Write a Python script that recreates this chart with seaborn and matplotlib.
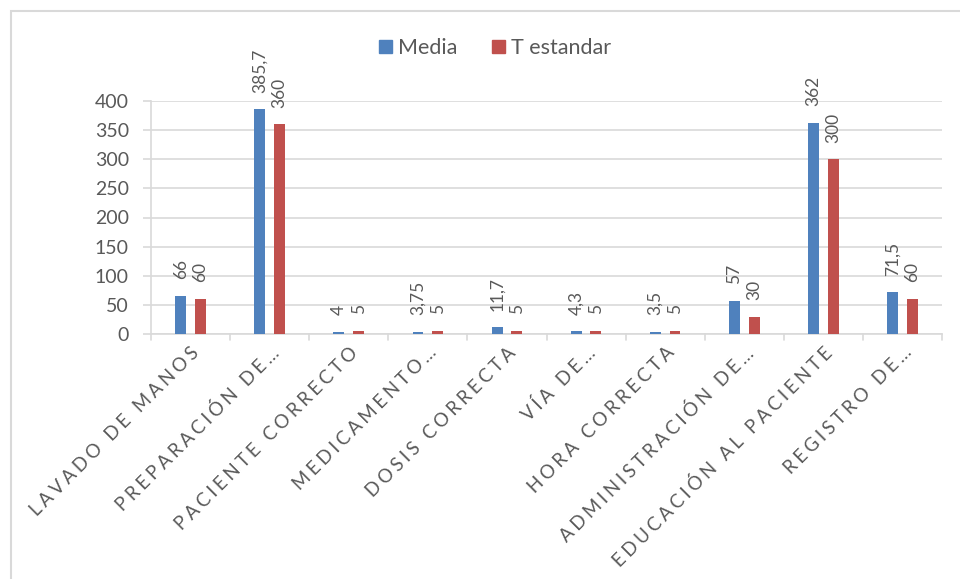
import matplotlib
matplotlib.use("Agg")
import matplotlib.pyplot as plt
import matplotlib.patches as mpatches
import seaborn as sns
import pandas as pd

categorias = ["LAVADO DE MANOS", "PREPARACIÓN DE…", "PACIENTE CORRECTO", "MEDICAMENTO…",
              "DOSIS CORRECTA", "VÍA DE…", "HORA CORRECTA", "ADMINISTRACIÓN DE…",
              "EDUCACIÓN AL PACIENTE", "REGISTRO DE…"]
media = [66, 385.7, 4, 3.75, 11.7, 4.3, 3.5, 57, 362, 71.5]
t_estandar = [60, 360, 5, 5, 5, 5, 5, 30, 300, 60]
series = ["Media", "T estandar"]
colores = ["#4F81BD", "#C0504D"]
y_ticks = [0, 50, 100, 150, 200, 250, 300, 350, 400]

df = pd.DataFrame({
    "categoria": categorias * 2,
    "valor": media + t_estandar,
    "serie": [series[0]] * len(media) + [series[1]] * len(t_estandar),
})

sns.set_theme(style="white")
plt.rcParams["font.family"] = ["Lato", "DejaVu Sans"]
gris = "#595959"
linea = "#D9D9D9"

fig = plt.figure(figsize=(9.6, 5.79), dpi=100)
ax = fig.add_axes([151 / 960, 1 - 334 / 579, (942 - 151) / 960, (334 - 101) / 579])

sns.barplot(data=df, x="categoria", y="valor", hue="serie", palette=colores,
            width=0.5, gap=0.45, saturation=1, ax=ax, legend=False, errorbar=None,
            linewidth=0)
for p in ax.patches:
    p.set_zorder(3)

# value labels above each bar
def fmt(v):
    return f"{v:g}".replace(".", ",")

for cont in ax.containers:
    for rect in cont:
        h = rect.get_height()
        ax.annotate(fmt(h), (rect.get_x() + rect.get_width() / 2, h),
                    xytext=(0, 12), textcoords="offset points",
                    rotation=90, ha="center", va="bottom", color=gris, fontsize=12.5)

ax.set_ylim(0, 400)
ax.set_xlim(-0.5, len(categorias) - 0.5)
ax.set_yticks(y_ticks)
ax.set_yticklabels([str(t) for t in y_ticks], color=gris, fontsize=14)
ax.yaxis.grid(True, color=linea, linewidth=1.2)
ax.set_axisbelow(True)
ax.tick_params(axis="y", length=6, width=1.2, color=linea, pad=10, left=True)

# spaced-out category labels
espaciado = ["\u2009\u200a".join(c) for c in categorias]
ax.set_xticks(range(len(categorias)))
ax.set_xticklabels(espaciado, rotation=45, ha="right", rotation_mode="anchor",
                   color=gris, fontsize=13.5)
ax.tick_params(axis="x", length=0, pad=7)
# separators between categories on the x axis
for b in [i - 0.5 for i in range(len(categorias) + 1)]:
    ax.plot([b, b], [0, -0.025], transform=ax.get_xaxis_transform(),
            color=linea, linewidth=1.2, clip_on=False)

ax.set_xlabel("")
ax.set_ylabel("")
for side in ["top", "right"]:
    ax.spines[side].set_visible(False)
for side in ["left", "bottom"]:
    ax.spines[side].set_color(linea)
    ax.spines[side].set_linewidth(1.2)

handles = [mpatches.Patch(color=c, label=s) for c, s in zip(colores, series)]
fig.legend(handles=handles, loc="center", bbox_to_anchor=(495 / 960, 1 - 48 / 579),
           ncol=2, frameon=False, fontsize=15.5, handlelength=0.6, handleheight=0.6,
           handletextpad=0.3, columnspacing=1.6, labelcolor=gris)

# chart area border
fig.add_artist(mpatches.Rectangle((10.5 / 960, -0.05), 1.2, 1 - 11 / 579 + 0.05,
                                  transform=fig.transFigure, fill=False,
                                  edgecolor=linea, linewidth=1.5))

fig.savefig("out.png", dpi=100)
